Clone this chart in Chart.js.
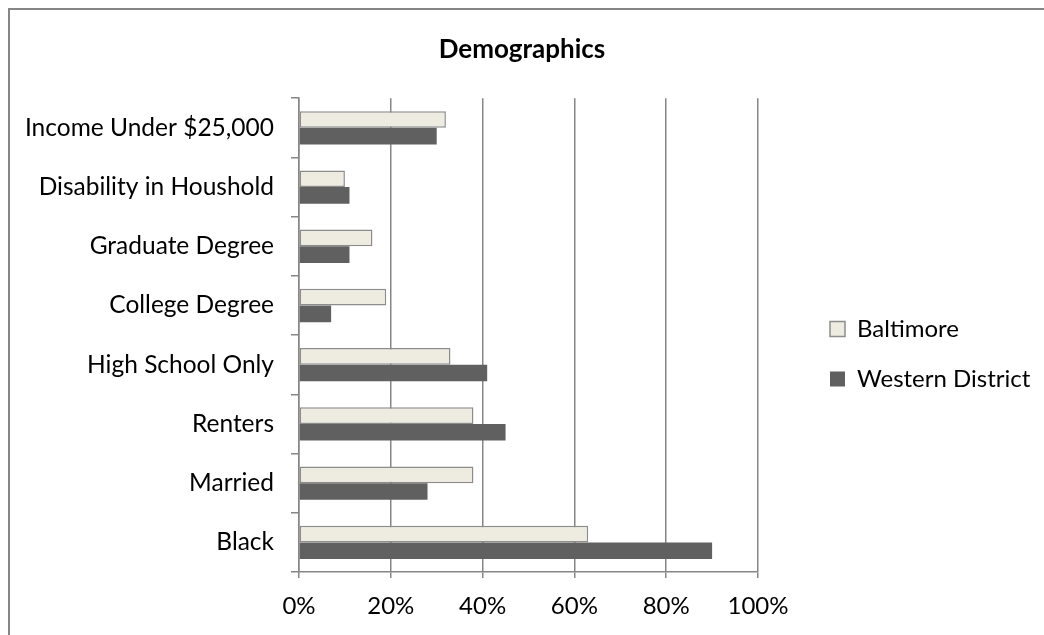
<!DOCTYPE html>
<html>
<head>
<meta charset="utf-8">
<script src="https://cdn.jsdelivr.net/npm/chart.js@4"></script>
<style>
  html, body { margin: 0; padding: 0; background: #fff; overflow: hidden; }
  #wrap { width: 1044px; height: 635px; }
</style>
</head>
<body>
<div id="wrap"><canvas id="demoChart" width="1044" height="635"></canvas></div>
<script>
// chart data
const categories = ['Income Under $25,000', 'Disability in Houshold', 'Graduate Degree', 'College Degree',
  'High School Only', 'Renters', 'Married', 'Black'];
const baltimore = [32, 10, 16, 19, 33, 38, 38, 63];
const westernDistrict = [30, 11, 11, 7, 41, 45, 28, 90];
const xTicks = [0, 20, 40, 60, 80, 100];

const axisGray = '#868686';
const font = 'Lato, "Open Sans", sans-serif';

// outer frame like the excel chart border
const frame = {
  id: 'frame',
  beforeDraw(chart) {
    const c = chart.ctx;
    c.save();
    c.strokeStyle = axisGray;
    c.lineWidth = 2;
    c.strokeRect(9, 9, 1200, 800);
    c.restore();
  }
};

// move the legend over a bit, excel puts it further right
const legendShift = {
  id: 'legendShift',
  afterLayout(chart) {
    const lg = chart.legend;
    lg.left += 46; lg.right += 46;
    lg.top += 19; lg.bottom += 19;
  }
};

const ctx = document.getElementById('demoChart').getContext('2d');
new Chart(ctx, {
  type: 'bar',
  data: {
    labels: categories,
    datasets: [{
      label: 'Baltimore',
      data: baltimore,
      backgroundColor: '#EEECE1',
      borderColor: '#8C8C8C',
      borderWidth: 1.5,
      borderSkipped: false
    }, {
      label: 'Western District',
      data: westernDistrict,
      backgroundColor: '#606060',
      borderWidth: 0
    }]
  },
  options: {
    indexAxis: 'y',
    responsive: false,
    animation: false,
    layout: { padding: 0 },
    datasets: { bar: { categoryPercentage: 0.5625, barPercentage: 1 } },
    scales: {
      x: {
        min: 0,
        max: 100,
        afterBuildTicks(s) { s.ticks = xTicks.map(v => ({ value: v })); },
        afterFit(s) { s.height = 63; s.paddingRight = 286; },
        grid: { color: axisGray, lineWidth: 1.5, tickLength: 6 },
        border: { color: axisGray, width: 1.5 },
        ticks: {
          color: '#000',
          padding: 14,
          font: { family: font, size: 24 },
          callback: v => v + '%'
        }
      },
      y: {
        afterFit(s) { s.width = 299; },
        grid: { offset: true, drawOnChartArea: false, color: axisGray, lineWidth: 1.5, tickLength: 8 },
        border: { color: axisGray, width: 1.5 },
        ticks: { color: '#000', padding: 17, font: { family: font, size: 24.5 } }
      }
    },
    plugins: {
      title: {
        display: true,
        text: 'Demographics',
        color: '#000',
        font: { family: font, size: 26, weight: 'bold' },
        padding: { top: 34, bottom: 33 }
      },
      legend: {
        position: 'right',
        fullSize: false,
        labels: {
          color: '#000',
          boxWidth: 15,
          boxHeight: 15,
          padding: 26,
          font: { family: font, size: 24 }
        }
      },
      tooltip: { enabled: false }
    }
  },
  plugins: [frame, legendShift]
});
</script>
</body>
</html>
